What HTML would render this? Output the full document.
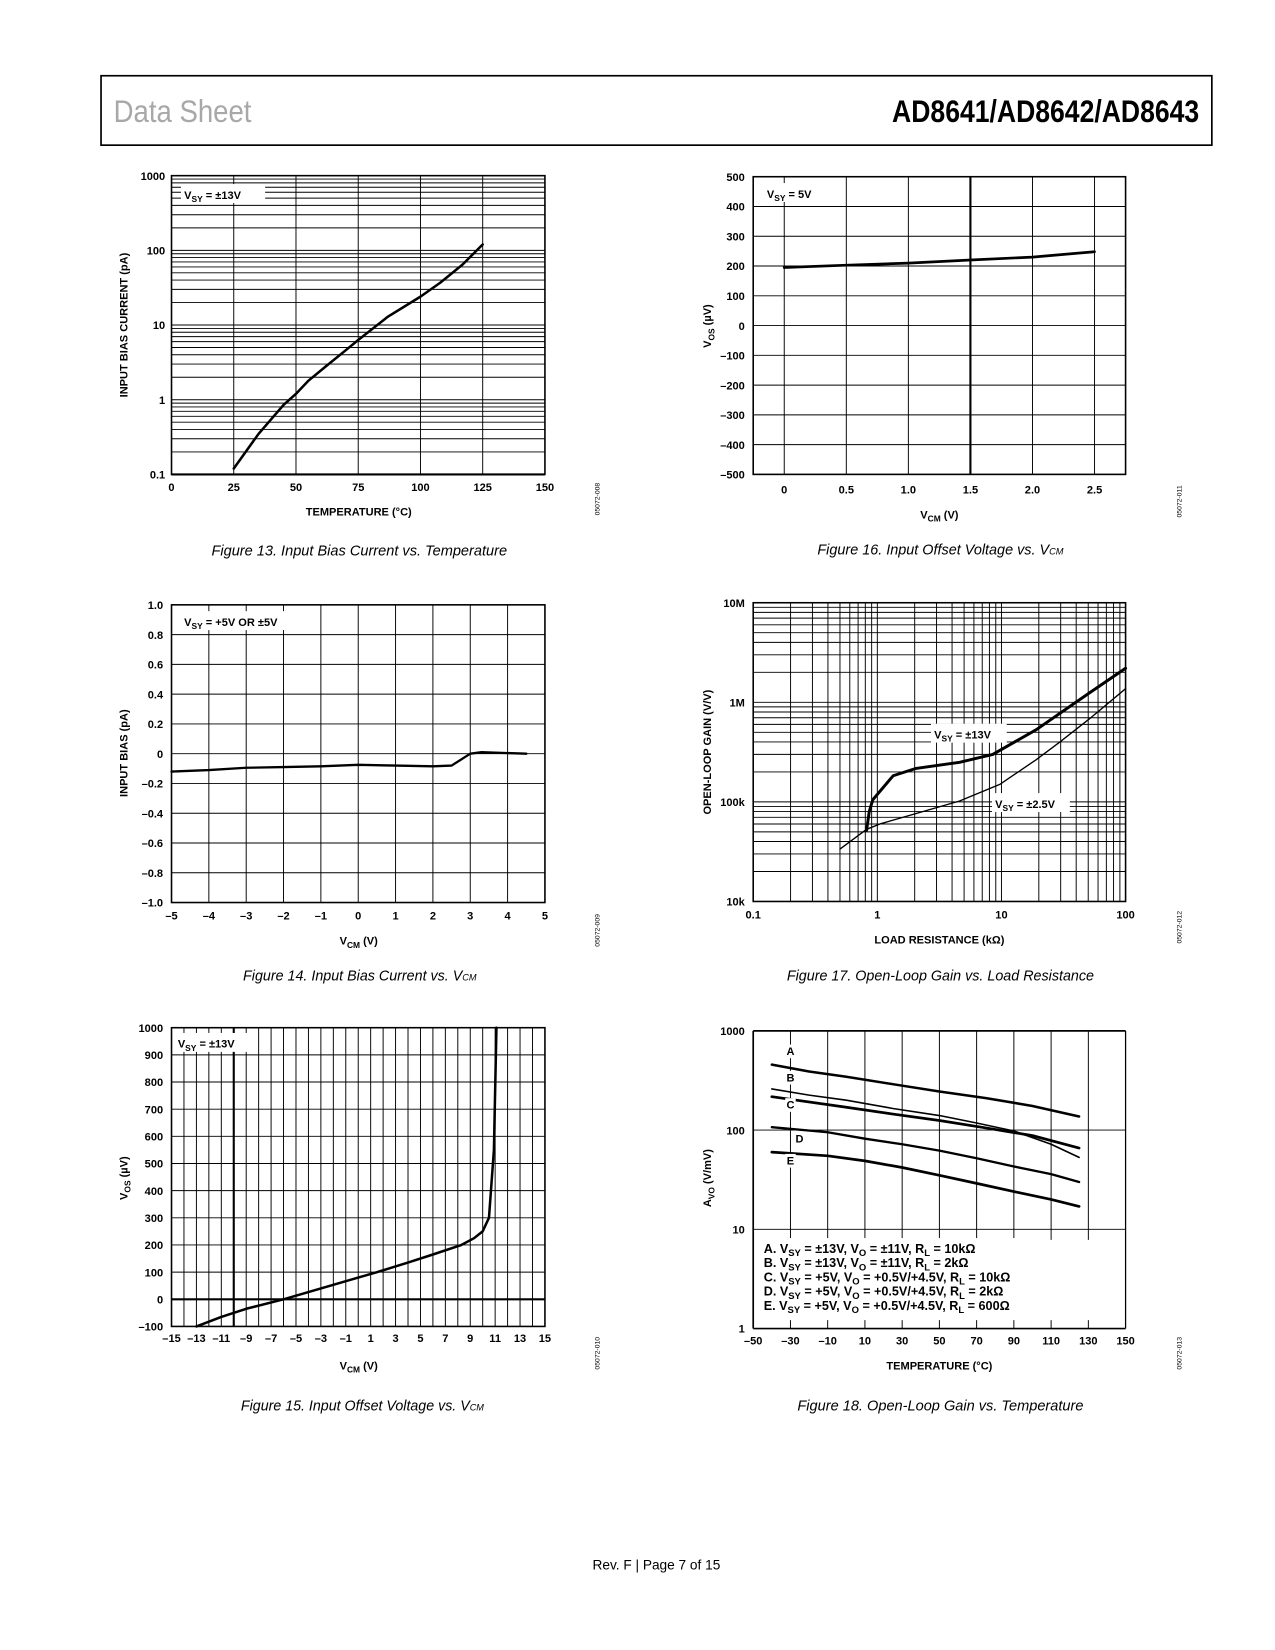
<!DOCTYPE html>
<html><head><meta charset="utf-8"><style>
html,body{margin:0;padding:0;background:#fff}
svg{display:block}
text{font-family:"Liberation Sans",sans-serif}
.t{font-size:10.5px;font-weight:bold}
.lg{font-size:12px;font-weight:bold}
.cap{font-size:14px;font-style:italic}
.code{font-size:6.5px}
</style></head><body>
<svg id="page" xmlns="http://www.w3.org/2000/svg" width="1275" height="1650" viewBox="0 0 1212 1568.6">
<rect x="96" y="72" width="1056" height="66" fill="none" stroke="#000" stroke-width="1.6"/>
<text x="108" y="116" font-size="30" fill="#a8a8a8" textLength="131" lengthAdjust="spacingAndGlyphs">Data Sheet</text>
<text x="848" y="116" font-size="30" font-weight="bold" textLength="292" lengthAdjust="spacingAndGlyphs">AD8641/AD8642/AD8643</text>
<g id="charts"></g>
<g>
<text class="cap" x="201" y="528" textLength="281" lengthAdjust="spacingAndGlyphs">Figure 13. Input Bias Current vs. Temperature</text>
<text class="cap" x="777" y="527" textLength="234" lengthAdjust="spacingAndGlyphs">Figure 16. Input Offset Voltage vs. V<tspan font-size="9">CM</tspan></text>
<text class="cap" x="231" y="932" textLength="222" lengthAdjust="spacingAndGlyphs">Figure 14. Input Bias Current vs. V<tspan font-size="9">CM</tspan></text>
<text class="cap" x="748" y="932" textLength="292" lengthAdjust="spacingAndGlyphs">Figure 17. Open-Loop Gain vs. Load Resistance</text>
<text class="cap" x="229" y="1341" textLength="231" lengthAdjust="spacingAndGlyphs">Figure 15. Input Offset Voltage vs. V<tspan font-size="9">CM</tspan></text>
<text class="cap" x="758" y="1341" textLength="272" lengthAdjust="spacingAndGlyphs">Figure 18. Open-Loop Gain vs. Temperature</text>
</g>
<g class="t">
<text x="341" y="490" text-anchor="middle">TEMPERATURE (°C)</text>
<text transform="translate(121,309) rotate(-90)" text-anchor="middle">INPUT BIAS CURRENT (pA)</text>
<text x="893" y="493" text-anchor="middle">V<tspan font-size="8" dy="3">CM</tspan><tspan dy="-3"> (V)</tspan></text>
<text transform="translate(676,310) rotate(-90)" text-anchor="middle">V<tspan font-size="8" dy="3">OS</tspan><tspan dy="-3"> (µV)</tspan></text>
<text x="341" y="898" text-anchor="middle">V<tspan font-size="8" dy="3">CM</tspan><tspan dy="-3"> (V)</tspan></text>
<text transform="translate(121,716) rotate(-90)" text-anchor="middle">INPUT BIAS (pA)</text>
<text x="341" y="1302" text-anchor="middle">V<tspan font-size="8" dy="3">CM</tspan><tspan dy="-3"> (V)</tspan></text>
<text transform="translate(121,1120) rotate(-90)" text-anchor="middle">V<tspan font-size="8" dy="3">OS</tspan><tspan dy="-3"> (µV)</tspan></text>
<text x="893" y="897" text-anchor="middle">LOAD RESISTANCE (kΩ)</text>
<text transform="translate(676,715) rotate(-90)" text-anchor="middle">OPEN-LOOP GAIN (V/V)</text>
<text x="893" y="1302" text-anchor="middle">TEMPERATURE (°C)</text>
<text transform="translate(676,1120) rotate(-90)" text-anchor="middle">A<tspan font-size="8" dy="3">VO</tspan><tspan dy="-3"> (V/mV)</tspan></text>
</g>
<g class="code">
<text transform="translate(570,490) rotate(-90)">05072-008</text>
<text transform="translate(1123,492) rotate(-90)">05072-011</text>
<text transform="translate(570,900) rotate(-90)">05072-009</text>
<text transform="translate(1123,897) rotate(-90)">05072-012</text>
<text transform="translate(570,1302) rotate(-90)">05072-010</text>
<text transform="translate(1123,1302) rotate(-90)">05072-013</text>
</g>
<text x="624" y="1492" text-anchor="middle" font-size="13">Rev. F | Page 7 of 15</text>
</svg>
<script>
// ---- Figure 13 data ----
const f13Temp=[25,35,45,50,55,62,70,75,87,100,108,117,125];
const f13Ib=[0.12,0.35,0.85,1.2,1.8,2.8,4.6,6.3,13,24,37,65,120];
const f13XTicks=[0,25,50,75,100,125,150];
const f13YTicks=['0.1','1','10','100','1000'];
// ---- Figure 16 data ----
const f16Vcm=[0,0.5,1.0,1.5,2.0,2.5];
const f16Vos=[195,203,210,220,230,248];
const f16XTicks=['0','0.5','1.0','1.5','2.0','2.5'];
const f16YTicks=[-500,-400,-300,-200,-100,0,100,200,300,400,500];
// ---- Figure 14 data ----
const f14Vcm=[-5,-4,-3,-2,-1,0,1,2,2.5,3,3.3,4.5];
const f14Ib=[-0.12,-0.11,-0.095,-0.09,-0.085,-0.075,-0.08,-0.085,-0.08,0.0,0.01,0.0];
const f14XTicks=[-5,-4,-3,-2,-1,0,1,2,3,4,5];
const f14YTicks=['-1.0','-0.8','-0.6','-0.4','-0.2','0','0.2','0.4','0.6','0.8','1.0'];
// ---- Figure 15 data ----
const f15Vcm=[-13,-11,-9,-6,-3,0,1.5,4,6,8.3,9.3,10,10.5,10.9,11.1];
const f15Vos=[-100,-65,-35,0,40,80,100,135,165,200,225,250,300,550,1000];
const f15XTicks=[-15,-13,-11,-9,-7,-5,-3,-1,1,3,5,7,9,11,13,15];
const f15YTicks=[-100,0,100,200,300,400,500,600,700,800,900,1000];
// ---- Figure 17 data ----
const f17R13=[0.82,0.86,0.92,1.34,2.05,4.6,8.5,19,51,100];
const f17G13=[52e3,80e3,105e3,183e3,217e3,250e3,300e3,530e3,1.24e6,2.2e6];
const f17R25=[0.5,0.82,1.05,4.6,9.7,19,29.6,51,100];
const f17G25=[33.6e3,53e3,60e3,102e3,150e3,265e3,400e3,680e3,1.37e6];
const f17XTicks=['0.1','1','10','100'];
const f17YTicks=['10k','100k','1M','10M'];
// ---- Figure 18 data ----
const f18TempA=[-40,-20,0,25,50,75,100,125];
const f18A=[457,390,345,290,245,210,175,137];
const f18TempB=[-40,-20,0,25,50,70,90,110,125];
const f18B=[260,225,200,165,140,118,98,72,53];
const f18TempC=[-40,0,25,50,75,100,125];
const f18C=[217,170,145,125,105,88,66];
const f18TempD=[-40,-10,10,30,50,70,90,110,125];
const f18D=[107,95,82,72,62,52,43,36,30];
const f18TempE=[-40,-10,10,30,50,70,90,110,125];
const f18E=[60,55,49,42,35,29,24,20,17];
const f18XTicks=[-50,-30,-10,10,30,50,70,90,110,130,150];
const f18YTicks=['1','10','100','1000'];

const NS='http://www.w3.org/2000/svg';
const root=document.getElementById('charts');
function mk(tag,attrs,parent){const e=document.createElementNS(NS,tag);for(const k in attrs)e.setAttribute(k,attrs[k]);(parent||root).appendChild(e);return e;}
function lin(d0,d1,r0,r1){return v=>r0+(v-d0)/(d1-d0)*(r1-r0);}
function lg(d0,d1,r0,r1){return v=>r0+(Math.log10(v)-Math.log10(d0))/(Math.log10(d1)-Math.log10(d0))*(r1-r0);}
function fmt(v){return String(v).replace('-','–');}
function chartGroup(name){const g=mk('g',{});return g;}
function vline(g,x,y0,y1,w){mk('line',{x1:x,x2:x,y1:y0,y2:y1,stroke:'#000','stroke-width':w||0.9},g);}
function hline(g,y,x0,x1,w){mk('line',{x1:x0,x2:x1,y1:y,y2:y,stroke:'#000','stroke-width':w||0.9},g);}
function frame(g,x0,y0,x1,y1){mk('rect',{x:x0,y:y0,width:x1-x0,height:y1-y0,fill:'none',stroke:'#000','stroke-width':1.5},g);}
function curve(g,xs,ys,sx,sy,w,name){let d='';for(let i=0;i<xs.length;i++)d+=(i?'L':'M')+sx(xs[i]).toFixed(1)+','+sy(ys[i]).toFixed(1);const p=mk('path',{d:d,fill:'none',stroke:'#000','stroke-width':w,'stroke-linejoin':'round','stroke-linecap':'round'},g);return p;}
function txt(g,x,y,s,anchor){const t=mk('text',{x:x,y:y,'class':'t','text-anchor':anchor||'middle'},g);t.textContent=s;return t;}
function logGrid(g,d0,decades,s,horiz,a0,a1){for(let k=0;k<decades;k++){const b=d0*Math.pow(10,k);for(let m=1;m<10;m++){const p=s(b*m);horiz?hline(g,p,a0,a1):vline(g,p,a0,a1);}}}
function label(g,x,y,w,h,main,sub,rest){mk('rect',{x:x,y:y,width:w,height:h,fill:'#fff'},g);const t=mk('text',{x:x+3,y:y+h-4,'class':'t'},g);t.innerHTML=main+'<tspan font-size="8" dy="3">'+sub+'</tspan><tspan dy="-3">'+rest+'</tspan>';return t;}

// Figure 13
(function(){const g=chartGroup('figure-13-chart');const X0=163,X1=518,Y0=167,Y1=451;
const sx=lin(0,150,X0,X1),sy=lg(0.1,1000,Y1,Y0);
logGrid(g,0.1,4,sy,true,X0,X1);
f13XTicks.forEach(v=>{vline(g,sx(v),Y0,Y1);txt(g,sx(v),Y1+16,String(v));});
f13YTicks.forEach(s=>txt(g,X0-6,sy(parseFloat(s))+4,s,'end'));
frame(g,X0,Y0,X1,Y1);hline(g,Y1,X0,X1,2);
label(g,172,175,80,18,'V','SY',' = ±13V');
curve(g,f13Temp,f13Ib,sx,sy,2.4,'ib-vs-temp-line');})();

// Figure 16
(function(){const g=chartGroup('figure-16-chart');const X0=716,X1=1070,Y0=168,Y1=451;
const sx=lin(-0.25,2.75,X0,X1),sy=lin(-500,500,Y1,Y0);
f16YTicks.forEach(v=>{hline(g,sy(v),X0,X1);txt(g,X0-8,sy(v)+4,fmt(v),'end');});
f16XTicks.forEach(s=>{const v=parseFloat(s);vline(g,sx(v),Y0,Y1,v===1.5?2:0.9);txt(g,sx(v),Y1+18,s);});
frame(g,X0,Y0,X1,Y1);
label(g,726,174,60,18,'V','SY',' = 5V');
curve(g,f16Vcm,f16Vos,sx,sy,2.6,'vos-vs-vcm-line');})();

// Figure 14
(function(){const g=chartGroup('figure-14-chart');const X0=163,X1=518,Y0=575,Y1=858;
const sx=lin(-5,5,X0,X1),sy=lin(-1,1,Y1,Y0);
f14YTicks.forEach(s=>{const v=parseFloat(s);hline(g,sy(v),X0,X1);txt(g,X0-8,sy(v)+4,fmt(s),'end');});
f14XTicks.forEach(v=>{vline(g,sx(v),Y0,Y1);txt(g,sx(v),Y1+16,fmt(v));});
frame(g,X0,Y0,X1,Y1);
label(g,172,581,110,18,'V','SY',' = +5V OR ±5V');
curve(g,f14Vcm,f14Ib,sx,sy,2.2,'ib-vs-vcm-line');})();

// Figure 15
(function(){const g=chartGroup('figure-15-chart');const X0=163,X1=518,Y0=977,Y1=1261;
const sx=lin(-15,15,X0,X1),sy=lin(-100,1000,Y1,Y0);
f15YTicks.forEach(v=>{hline(g,sy(v),X0,X1,v===0?2:0.9);txt(g,X0-8,sy(v)+4,fmt(v),'end');});
for(let v=-14;v<=14;v++)vline(g,sx(v),Y0,Y1,v===-10?2:0.9);
f15XTicks.forEach(v=>{const t=txt(g,sx(v),Y1+15,fmt(v));t.setAttribute('font-size','8.5');});
frame(g,X0,Y0,X1,Y1);
label(g,166,982,72,18,'V','SY',' = ±13V');
curve(g,f15Vcm,f15Vos,sx,sy,2.4,'vos-vs-vcm-13v-line');})();

// Figure 17
(function(){const g=chartGroup('figure-17-chart');const X0=716,X1=1070,Y0=573,Y1=857;
const sx=lg(0.1,100,X0,X1),sy=lg(1e4,1e7,Y1,Y0);
logGrid(g,0.1,3,sx,false,Y0,Y1);logGrid(g,1e4,3,sy,true,X0,X1);
f17XTicks.forEach(s=>txt(g,sx(parseFloat(s)),Y1+16,s));
const yv=[1e4,1e5,1e6,1e7];f17YTicks.forEach((s,i)=>txt(g,X0-8,sy(yv[i])+4,s,'end'));
frame(g,X0,Y0,X1,Y1);
curve(g,f17R25,f17G25,sx,sy,1.3,'gain-2p5v-line');
curve(g,f17R13,f17G13,sx,sy,2.8,'gain-13v-line');
label(g,885,688,72,18,'V','SY',' = ±13V');
label(g,943,754,74,18,'V','SY',' = ±2.5V');})();

// Figure 18
(function(){const g=chartGroup('figure-18-chart');const X0=716,X1=1070,Y0=980,Y1=1263;
const sx=lin(-50,150,X0,X1),sy=lg(1,1000,Y1,Y0);
const y10=sy(10);
hline(g,sy(100),X0,X1);hline(g,y10,X0,X1);
for(let v=-30;v<=130;v+=20){vline(g,sx(v),Y0,y10+10);vline(g,sx(v),Y1-8,Y1);}
f18XTicks.forEach(v=>txt(g,sx(v),Y1+15,fmt(v)));
const yv=[1,10,100,1000];f18YTicks.forEach((s,i)=>txt(g,X0-8,sy(yv[i])+4,s,'end'));
hline(g,Y0,X0,X1,1.6);hline(g,Y1,X0,X1,1.6);vline(g,X0,Y0,Y1,1.6);vline(g,X1,Y0,Y1,1.2);
curve(g,f18TempA,f18A,sx,sy,2.4,'series-a-line');
curve(g,f18TempB,f18B,sx,sy,1.5,'series-b-line');
curve(g,f18TempC,f18C,sx,sy,2.6,'series-c-line');
curve(g,f18TempD,f18D,sx,sy,2.2,'series-d-line');
curve(g,f18TempE,f18E,sx,sy,2.6,'series-e-line');
[['A',1003],['B',1028],['C',1054],['E',1107]].forEach(a=>{mk('rect',{x:sx(-30)-5,y:a[1]-10,width:10,height:13,fill:'#fff'},g);txt(g,sx(-30),a[1],a[0]);});
txt(g,760,1086,'D');
const leg=[['A. V','SY',' = ±13V, V','O',' = ±11V, R','L',' = 10kΩ'],['B. V','SY',' = ±13V, V','O',' = ±11V, R','L',' = 2kΩ'],['C. V','SY',' = +5V, V','O',' = +0.5V/+4.5V, R','L',' = 10kΩ'],['D. V','SY',' = +5V, V','O',' = +0.5V/+4.5V, R','L',' = 2kΩ'],['E. V','SY',' = +5V, V','O',' = +0.5V/+4.5V, R','L',' = 600Ω']];
mk('rect',{x:722,y:1177,width:246,height:72,fill:'#fff'},g);
leg.forEach((r,i)=>{const t=mk('text',{x:726,y:1191+i*13.6,'class':'lg'},g);
t.innerHTML=r[0]+'<tspan font-size="9" dy="3">'+r[1]+'</tspan><tspan dy="-3">'+r[2]+'</tspan><tspan font-size="9" dy="3">'+r[3]+'</tspan><tspan dy="-3">'+r[4]+'</tspan><tspan font-size="9" dy="3">'+r[5]+'</tspan><tspan dy="-3">'+r[6]+'</tspan>';});})();
</script>
</body></html>
